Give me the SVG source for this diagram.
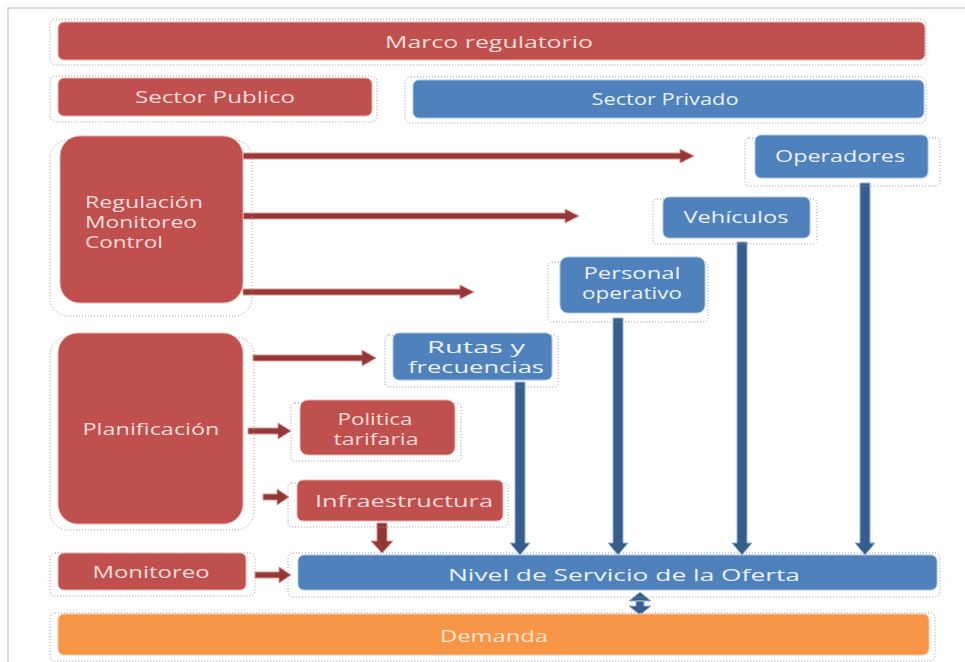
<svg xmlns="http://www.w3.org/2000/svg" width="965" height="662" viewBox="0 0 965 662">
<style>
.r{fill:#c0504d;stroke:#e8b5b3;stroke-width:1}
.b{fill:#4f81bd;stroke:#a9c3e0;stroke-width:1}
.o{fill:#f79646;stroke:#fbc9a0;stroke-width:1}
text{font-family:"Open Sans","Liberation Sans",sans-serif;font-size:16px}
.t{text-anchor:middle}
.tr{fill:#f6dcdb}
.tb{fill:#eaf1fa}
.to{fill:#fde3cc}
.dot{fill:none;stroke:#999;stroke-width:1;stroke-dasharray:1 2}
.ra{fill:#953735;stroke:#d99694;stroke-width:1}
.ba{fill:#385d8a;stroke:#8eb4e3;stroke-width:1}
</style>
<rect x="0" y="0" width="965" height="662" fill="#ffffff"/>
<path d="M8 662 V8 H965" fill="none" stroke="#d0d0d0" stroke-width="1.5"/>

<g id="connectors">
<polygon class="ra" points="243,153 680,153 680,149 694,156 680,163 680,159 243,159"/>
<polygon class="ra" points="243,213 565,213 565,209 579,216 565,223 565,219 243,219"/>
<polygon class="ra" points="243,289 460,289 460,285 474,292 460,299 460,295 243,295"/>
<polygon class="ra" points="253,355 362,355 362,350 376,358 362,366 362,361 253,361"/>
<polygon class="ra" points="248,428 278,428 278,423 291,431 278,439 278,434 248,434"/>
<polygon class="ra" points="263,494 277,494 277,489 289,497 277,505 277,500 263,500"/>
<polygon class="ra" points="377,523 387,523 387,541 393,541 382,553 371,541 377,541"/>
<polygon class="ra" points="255,572 279,572 279,567 291,575 279,583 279,578 255,578"/>
<polygon class="ba" points="515,382 525,382 525,543 530,543 520,555 510,543 515,543"/>
<polygon class="ba" points="613,318 623,318 623,543 628,543 618,555 608,543 613,543"/>
<polygon class="ba" points="737,242 747,242 747,543 752,543 742,555 732,543 737,543"/>
<polygon class="ba" points="860,183 870,183 870,543 875,543 865,555 855,543 860,543"/>
<polygon class="ba" points="636,601 644,601 644,606 651,606 640,615 629,606 636,606 636,601 629,601 640,592 651,601 644,601"/>
</g>

<g id="marco">
<rect class="dot" x="50" y="19" width="876" height="46" rx="6"/>
<rect class="r" x="58" y="22" width="867" height="38" rx="6"/>
<text class="t tr" x="489" y="48" font-size="18" textLength="208" lengthAdjust="spacingAndGlyphs">Marco regulatorio</text>
</g>
<g id="publico">
<rect class="dot" x="50" y="76" width="327" height="46" rx="6"/>
<rect class="r" x="58" y="78" width="314" height="38" rx="6"/>
<text class="t tr" x="215" y="103" font-size="18" textLength="160" lengthAdjust="spacingAndGlyphs">Sector Publico</text>
</g>
<g id="privado">
<rect class="dot" x="405" y="77" width="521" height="46" rx="6"/>
<rect class="b" x="413" y="80" width="511" height="38" rx="6"/>
<text class="t tb" x="665" y="105" font-size="17" textLength="147" lengthAdjust="spacingAndGlyphs">Sector Privado</text>
</g>
<g id="regulacion">
<rect class="dot" x="50" y="140" width="202" height="176" rx="18"/>
<rect class="r" x="60" y="136" width="183" height="167" rx="20"/>
<text class="tr" font-size="14.5" x="85" y="208" textLength="118" lengthAdjust="spacingAndGlyphs">Regulación</text>
<text class="tr" font-size="14.5" x="85" y="228" textLength="112" lengthAdjust="spacingAndGlyphs">Monitoreo</text>
<text class="tr" font-size="14.5" x="85" y="248" textLength="78" lengthAdjust="spacingAndGlyphs">Control</text>
</g>
<g id="operadores">
<rect class="dot" x="745" y="138" width="195" height="48" rx="4"/>
<rect class="b" x="755" y="135" width="173" height="43" rx="6"/>
<text class="t tb" x="840" y="162" font-size="17" textLength="130" lengthAdjust="spacingAndGlyphs">Operadores</text>
</g>
<g id="vehiculos">
<rect class="dot" x="653" y="199" width="164" height="45" rx="4"/>
<rect class="b" x="663" y="197" width="147" height="41" rx="6"/>
<text class="t tb" x="736" y="223" font-size="17" textLength="105" lengthAdjust="spacingAndGlyphs">Vehículos</text>
</g>
<g id="personal">
<rect class="dot" x="548" y="262" width="160" height="60" rx="4"/>
<rect class="b" x="560" y="257" width="145" height="56" rx="8"/>
<text class="t tb" x="632" y="279" font-size="14.5" textLength="97" lengthAdjust="spacingAndGlyphs">Personal</text>
<text class="t tb" x="632" y="299" font-size="14.5" textLength="100" lengthAdjust="spacingAndGlyphs">operativo</text>
</g>
<g id="rutas">
<rect class="dot" x="385" y="335" width="173" height="52" rx="4"/>
<rect class="b" x="393" y="333" width="159" height="47" rx="6"/>
<text class="t tb" x="476" y="353" font-size="14.5" textLength="98" lengthAdjust="spacingAndGlyphs">Rutas y</text>
<text class="t tb" x="476" y="373" font-size="14.5" textLength="136" lengthAdjust="spacingAndGlyphs">frecuencias</text>
</g>
<g id="planificacion">
<rect class="dot" x="50" y="337" width="204" height="193" rx="18"/>
<rect class="r" x="58" y="333" width="185" height="191" rx="20"/>
<text class="t tr" x="151" y="435" font-size="15.5" textLength="137" lengthAdjust="spacingAndGlyphs">Planificación</text>
</g>
<g id="politica">
<rect class="dot" x="291" y="403" width="170" height="58" rx="4"/>
<rect class="r" x="300" y="400" width="155" height="55" rx="8"/>
<text class="t tr" x="375" y="425" font-size="14" textLength="75" lengthAdjust="spacingAndGlyphs">Politica</text>
<text class="t tr" x="376" y="445" font-size="14" textLength="85" lengthAdjust="spacingAndGlyphs">tarifaria</text>
</g>
<g id="infraestructura">
<rect class="dot" x="288" y="483" width="220" height="44" rx="4"/>
<rect class="r" x="297" y="480" width="206" height="41" rx="6"/>
<text class="t tr" x="404" y="507" font-size="15.5" textLength="178" lengthAdjust="spacingAndGlyphs">Infraestructura</text>
</g>
<g id="monitoreo">
<rect class="dot" x="50" y="553" width="205" height="43" rx="5"/>
<rect class="r" x="58" y="553" width="188" height="37" rx="6"/>
<text class="t tr" x="151" y="578" font-size="16" textLength="117" lengthAdjust="spacingAndGlyphs">Monitoreo</text>
</g>
<g id="nivel">
<rect class="dot" x="288" y="553" width="652" height="44" rx="5"/>
<rect class="b" x="298" y="555" width="639" height="35" rx="6"/>
<text class="t tb" x="624" y="581" font-size="18" textLength="352" lengthAdjust="spacingAndGlyphs">Nivel de Servicio de la Oferta</text>
</g>
<g id="demanda">
<rect class="dot" x="50" y="613" width="885" height="48" rx="5"/>
<rect class="o" x="58" y="614" width="871" height="41" rx="6"/>
<text class="t to" x="494" y="642" font-size="17" textLength="108" lengthAdjust="spacingAndGlyphs">Demanda</text>
</g>
</svg>
